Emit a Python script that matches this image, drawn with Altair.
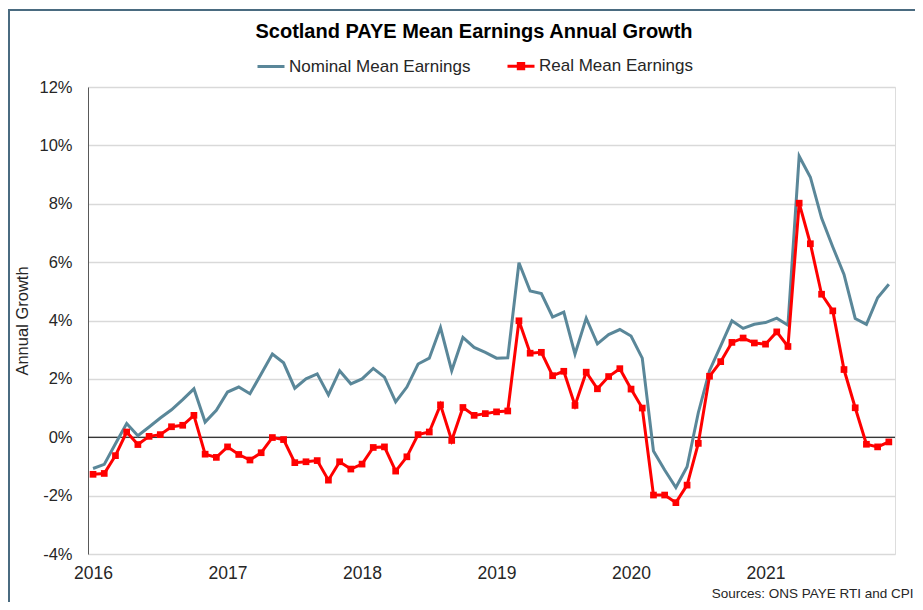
import altair as alt
import pandas as pd

# ---- data (monthly, Jan 2016 .. Dec 2021) ----
years = ["2016", "2017", "2018", "2019", "2020", "2021"]
series_names = ["Nominal Mean Earnings", "Real Mean Earnings"]

nominal = [
    -1.07, -0.93, -0.22, 0.47, 0.05, 0.35, 0.66, 0.94, 1.29, 1.66, 0.52, 0.92,
    1.55, 1.72, 1.49, 2.17, 2.85, 2.55, 1.68, 2.00, 2.17, 1.45, 2.28, 1.83,
    2.00, 2.36, 2.06, 1.21, 1.72, 2.51, 2.71, 3.76, 2.28, 3.42, 3.08, 2.91,
    2.71, 2.72, 5.98, 5.01, 4.92, 4.12, 4.29, 2.85, 4.08, 3.20, 3.52, 3.69,
    3.47, 2.71, -0.47, -1.12, -1.72, -1.01, 0.84, 2.28, 3.13, 3.99, 3.73, 3.87,
    3.93, 4.08, 3.84, 9.63, 8.91, 7.51, 6.52, 5.58, 4.07, 3.87, 4.78, 5.24,
]
real = [
    -1.27, -1.24, -0.63, 0.18, -0.25, 0.03, 0.09, 0.36, 0.41, 0.75, -0.58, -0.69,
    -0.33, -0.59, -0.78, -0.53, -0.01, -0.08, -0.87, -0.84, -0.80, -1.47, -0.84, -1.09,
    -0.92, -0.35, -0.33, -1.16, -0.67, 0.09, 0.18, 1.11, -0.11, 1.02, 0.75, 0.81,
    0.87, 0.90, 3.99, 2.88, 2.91, 2.11, 2.26, 1.09, 2.23, 1.66, 2.08, 2.35,
    1.65, 1.00, -1.98, -1.98, -2.24, -1.64, -0.21, 2.09, 2.59, 3.25, 3.40, 3.23,
    3.19, 3.61, 3.11, 8.02, 6.63, 4.90, 4.33, 2.32, 1.01, -0.24, -0.33, -0.16,
]
y_ticks = [-4, -2, 0, 2, 4, 6, 8, 10, 12]

# ---- styling ----
FONT = "Liberation Sans"
colors = ["#5a8799", "#ff0000"]
symbol_paths = [
    "M-1,0L1,0",
    "M-1,0L1,0M-0.2,-0.2L0.2,-0.2L0.2,0.2L-0.2,0.2Z",
]

n = len(nominal)
df = pd.DataFrame({
    "idx": list(range(n)) * 2,
    "value": nominal + real,
    "series": [series_names[0]] * n + [series_names[1]] * n,
})

W, H = 807, 467
x_scale = alt.Scale(domain=[-0.45, 71.55], nice=False, zero=False)
y_scale = alt.Scale(domain=[-4, 12], nice=False, zero=False)

tick_idx = [12 * i for i in range(len(years))]
label_expr = "[" + ",".join(f"'{y}'" for y in years) + "][round(datum.value/12)]"

x_enc = alt.X(
    "idx:Q", scale=x_scale,
    axis=alt.Axis(
        values=tick_idx, labelExpr=label_expr, grid=False, domain=False, ticks=False,
        labelPadding=10, labelFontSize=17.5, labelColor="#262626", labelFont=FONT,
        title="Sources: ONS PAYE RTI and CPI", titleX=825, titleY=46,
        titleAlign="right", titleBaseline="bottom", titleFontSize=13.5,
        titleFontWeight="normal", titleColor="#262626", titleFont=FONT,
    ),
)
y_enc = alt.Y(
    "value:Q", scale=y_scale,
    axis=alt.Axis(
        values=y_ticks, labelExpr="datum.value + '%'", grid=True,
        gridColor="#d9d9d9", gridWidth=1.5, domain=True, domainColor="#595959",
        domainWidth=1, ticks=False, labelPadding=16, labelFontSize=16.5,
        labelColor="#262626", labelFont=FONT,
        title="Annual Growth", titleX=-66, titleY=H / 2, titleAngle=270,
        titleAlign="center", titleBaseline="middle", titleFontSize=16.5,
        titleFontWeight="normal", titleColor="#262626", titleFont=FONT,
    ),
)

one = pd.DataFrame({"k": [0]})

frame = alt.Chart(one).mark_rect(
    fillOpacity=0, stroke="#4a6b80", strokeWidth=2
).encode(x=alt.value(-79), x2=alt.value(860), y=alt.value(-77), y2=alt.value(560))

zero_rule = alt.Chart(one).mark_rule(color="#000000", strokeWidth=1.2).encode(
    y=alt.datum(0, scale=y_scale)
)

nom_line = alt.Chart(df).transform_filter(
    alt.datum.series == series_names[0]
).mark_line(color=colors[0], strokeWidth=3).encode(x=x_enc, y=y_enc)

real_base = alt.Chart(df).transform_filter(alt.datum.series == series_names[1])
real_line = real_base.mark_line(color=colors[1], strokeWidth=3).encode(x=x_enc, y=y_enc)
real_pts = real_base.mark_point(
    shape="square", filled=True, size=45, color=colors[1], opacity=1
).encode(x=x_enc, y=y_enc)

legend = alt.Legend(
    title=None, orient="none", legendX=168, legendY=-36, direction="horizontal",
    symbolSize=729, symbolStrokeWidth=3, labelFontSize=17, labelFont=FONT,
    labelColor="#262626", labelOffset=3, columnPadding=30, padding=0,
    symbolOpacity=1, labelLimit=400,
)
legend_layer = alt.Chart(df).mark_point(size=0, filled=False, strokeWidth=3).encode(
    x=x_enc, y=y_enc,
    color=alt.Color("series:N", scale=alt.Scale(domain=series_names, range=colors), legend=legend),
    shape=alt.Shape("series:N", scale=alt.Scale(domain=series_names, range=symbol_paths), legend=legend),
)

chart = alt.layer(frame, zero_rule, nom_line, real_line, real_pts, legend_layer).properties(
    width=W, height=H,
    title=alt.TitleParams(
        "Scotland PAYE Mean Earnings Annual Growth", fontSize=20, fontWeight="bold",
        font=FONT, color="#000000", anchor="middle", dx=-17.5, dy=37,
    ),
    autosize=alt.AutoSizeParams(type="none"),
    padding={"left": 80, "top": 79, "right": 20, "bottom": 48},
).configure_view(stroke=None).configure(font=FONT)

chart.save("out.html", embed_options={"renderer": "svg", "actions": False})
